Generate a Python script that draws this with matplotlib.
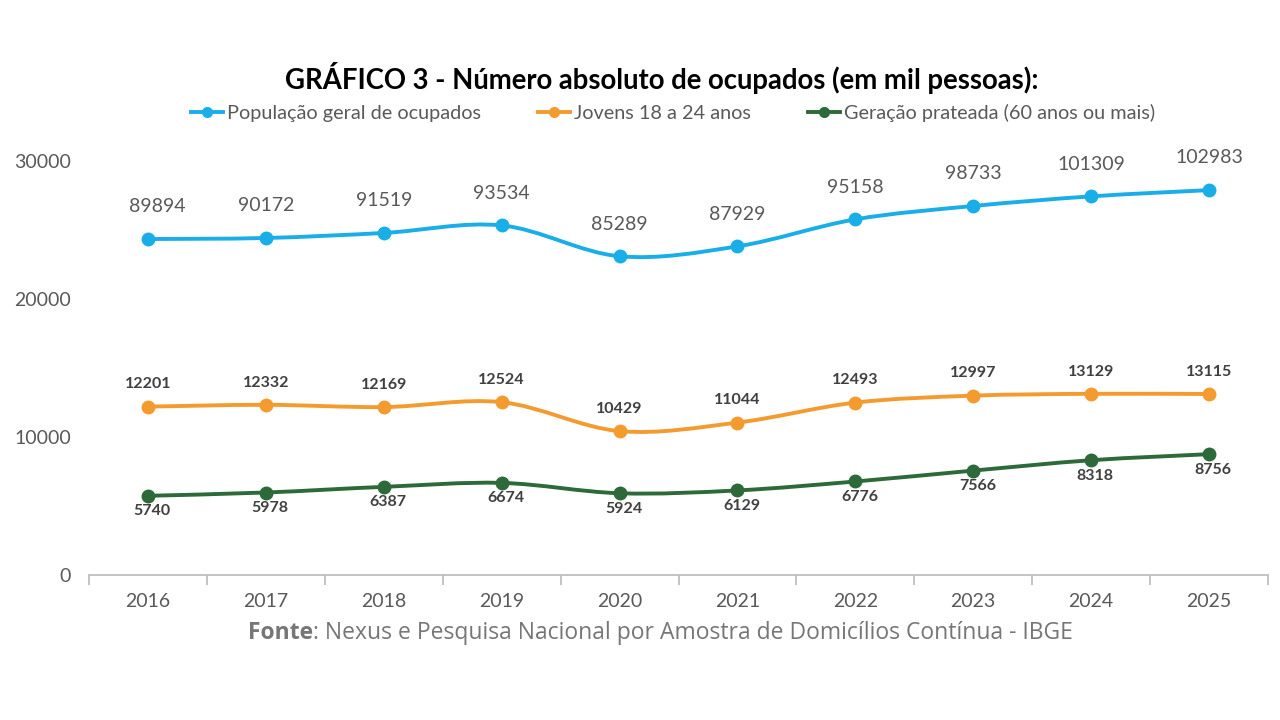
import matplotlib
matplotlib.use("Agg")
import matplotlib.pyplot as plt
from matplotlib.path import Path
from matplotlib.patches import PathPatch
from matplotlib.lines import Line2D
from matplotlib.text import Annotation
import numpy as np

years = ["2016", "2017", "2018", "2019", "2020", "2021", "2022", "2023", "2024", "2025"]
geral = [89894, 90172, 91519, 93534, 85289, 87929, 95158, 98733, 101309, 102983]
jovens = [12201, 12332, 12169, 12524, 10429, 11044, 12493, 12997, 13129, 13115]
prateada = [5740, 5978, 6387, 6674, 5924, 6129, 6776, 7566, 8318, 8756]

names = ["População geral de ocupados", "Jovens 18 a 24 anos", "Geração prateada (60 anos ou mais)"]
c_blue = "#1AAEE8"
c_orange = "#F49B30"
c_green = "#2D6A3A"
gray = "#595959"

plt.rcParams['font.family'] = ['Lato', 'DejaVu Sans']

fig = plt.figure(figsize=(12.8, 7.2), dpi=100)
ax = fig.add_axes([89/1280, 1-575/720, (1268-89)/1280, (575-126.5)/720])
ax2 = ax.twinx()

ax.set_xlim(-0.5, len(years) - 0.5)
ax.set_ylim(0, 32500)
ax2.set_ylim(0, 120000)


def smooth_path(x, y):
    x = np.asarray(x, float)
    y = np.asarray(y, float)
    n = len(x)
    verts = [(x[0], y[0])]
    codes = [Path.MOVETO]
    for i in range(n - 1):
        x0, y0 = (x[i - 1], y[i - 1]) if i > 0 else (x[i], y[i])
        x3, y3 = (x[i + 2], y[i + 2]) if i + 2 < n else (x[i + 1], y[i + 1])
        c1 = (x[i] + (x[i + 1] - x0) / 6, y[i] + (y[i + 1] - y0) / 6)
        c2 = (x[i + 1] - (x3 - x[i]) / 6, y[i + 1] - (y3 - y[i]) / 6)
        verts += [c1, c2, (x[i + 1], y[i + 1])]
        codes += [Path.CURVE4] * 3
    return Path(verts, codes)


xs = np.arange(len(years))
lw = 2.8
ms = 9

for a, vals, col in [(ax2, geral, c_blue), (ax, jovens, c_orange), (ax, prateada, c_green)]:
    p = PathPatch(smooth_path(xs, vals), facecolor="none", edgecolor=col, lw=lw,
                  capstyle="round", joinstyle="round")
    a.add_patch(p)
    a.plot(xs, vals, linestyle="none", marker="o", ms=ms, color=col)

for i, (x, v) in enumerate(zip(xs, geral)):
    dx = 7 if i == 0 else 0
    ax2.annotate(str(v), (x, v), xytext=(dx, 17), textcoords="offset points",
                 ha="center", va="bottom", fontsize=14, color=gray)
for x, v in zip(xs, jovens):
    ax.annotate(str(v), (x, v), xytext=(0, 11), textcoords="offset points",
                ha="center", va="bottom", fontsize=11.5, fontweight="bold", color="#404040")
for x, v in zip(xs, prateada):
    ax.annotate(str(v), (x, v), xytext=(3, -6), textcoords="offset points",
                ha="center", va="top", fontsize=11.5, fontweight="bold", color="#404040")

for a in (ax, ax2):
    for s in a.spines.values():
        s.set_visible(False)
ax.spines["bottom"].set_visible(True)
ax.spines["bottom"].set_color("#BFBFBF")
ax.spines["bottom"].set_linewidth(1.3)

ax.set_xticks(xs)
ax.set_xticklabels(years)
ax.set_xticks(np.arange(-0.5, len(years), 1.0), minor=True)
ax.tick_params(axis="x", which="major", length=0, pad=13, labelsize=14, labelcolor=gray)
ax.tick_params(axis="x", which="minor", length=7, width=1.3, color="#BFBFBF")
ax.set_yticks([0, 10000, 20000, 30000])
ax.tick_params(axis="y", length=0, pad=13, labelsize=14, labelcolor=gray)
ax2.set_yticks([])

fig.text(662/1280, 1-78/720, "GRÁFICO 3 - Número absoluto de ocupados (em mil pessoas):",
         ha="center", va="center", fontsize=19.8, fontweight="bold", color="black")

handles = [Line2D([0], [0], color=c, lw=lw, marker="o", ms=7) for c in (c_blue, c_orange, c_green)]
fig.legend(handles, names, loc="center", bbox_to_anchor=(673/1280, 1-113/720), ncol=3,
           frameon=False, fontsize=14.3, labelcolor=gray, handlelength=1.6,
           handletextpad=0.2, columnspacing=2.9)

t1 = fig.text(248/1280, 1-633/720, "Fonte", ha="left", va="center", fontsize=16.5,
              fontweight="bold", color="#767676", family="Open Sans")
a2 = Annotation(": Nexus e Pesquisa Nacional por Amostra de Domicílios Contínua - IBGE",
                xy=(1, 0.5), xycoords=t1, ha="left", va="center", fontsize=16.5,
                color="#767676", family="Open Sans")
fig.add_artist(a2)

fig.savefig("out.png", dpi=100, facecolor="white")
